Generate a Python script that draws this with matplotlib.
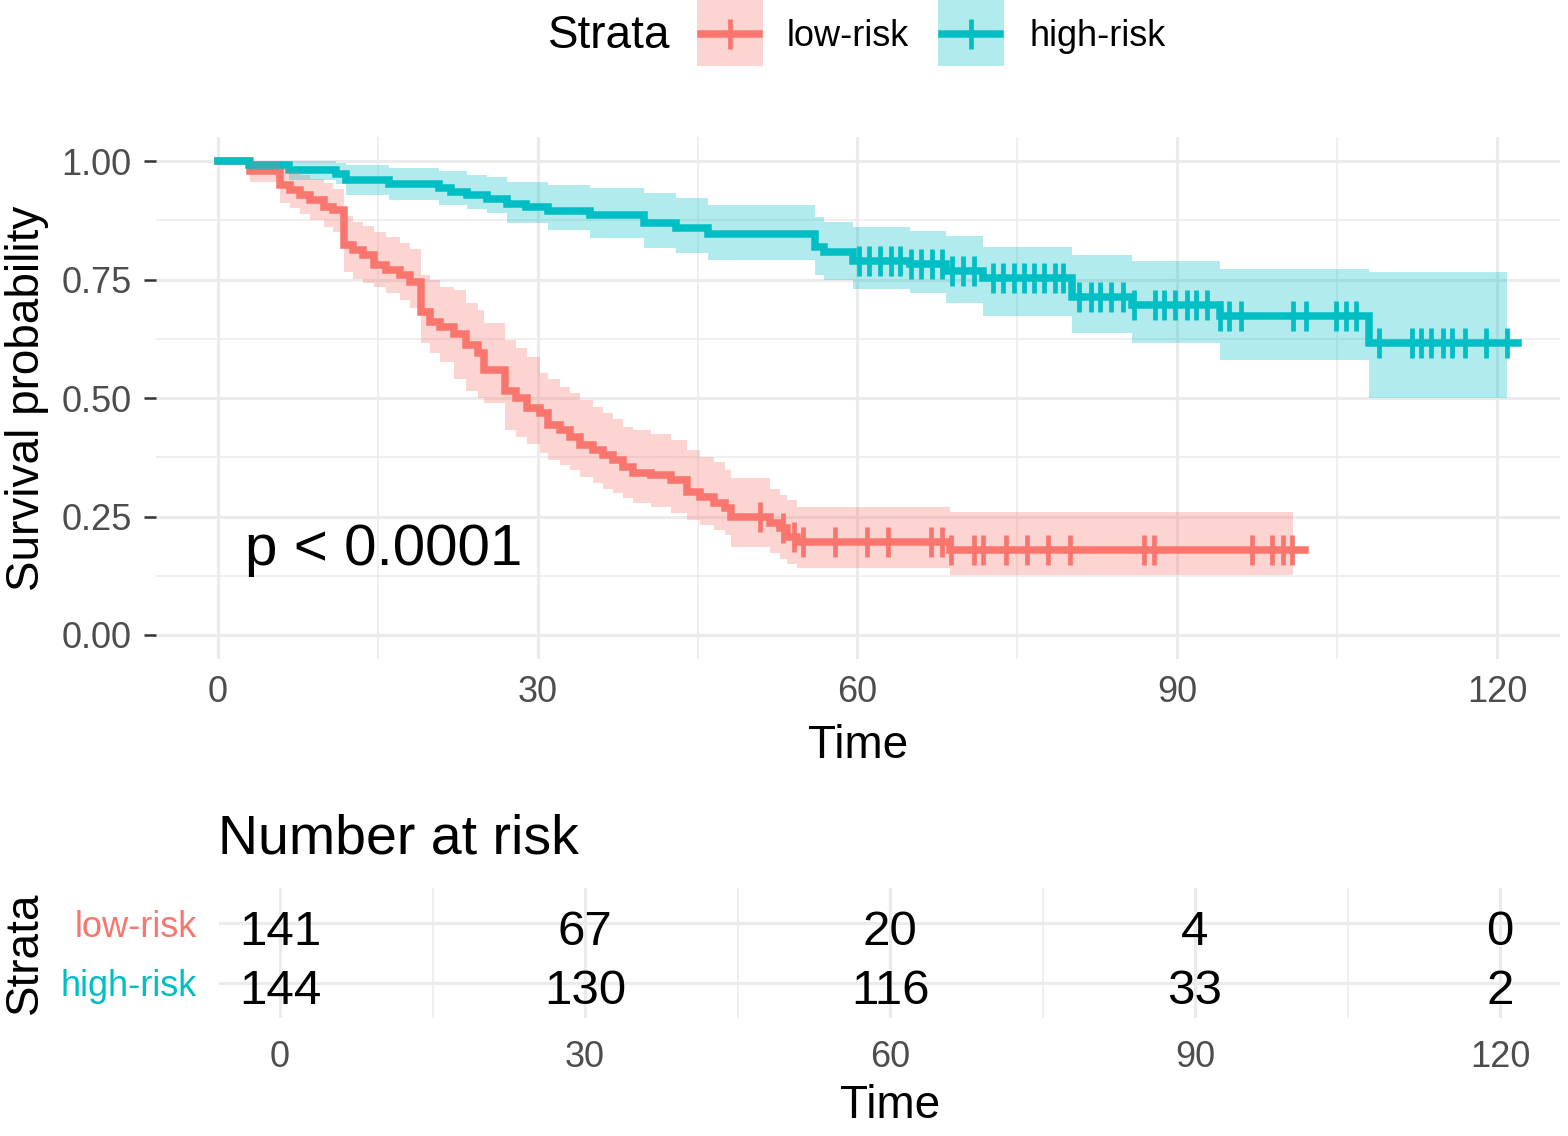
import numpy as np
import matplotlib.pyplot as plt
from matplotlib.patches import Rectangle

plt.rcParams['font.family'] = ['Liberation Sans', 'DejaVu Sans']

RED = '#F8766D'
TEAL = '#00BFC4'
GREY = '#4D4D4D'
GRID = '#EBEBEB'

# ---- low-risk: step times, survival, 95% band
low_time = [0, 3.0, 5.8, 6.8, 7.7, 8.6, 9.9, 10.8,
            11.8, 12.7, 13.6, 14.6, 15.8, 17.1, 18.0,
            19.0, 19.9, 20.8, 22.1, 23.3, 24.4, 25.0,
            26.9, 28.0, 29.0, 30.2, 31.0, 32.1, 33.0, 34.0, 35.2, 36.1,
            37.1, 38.0, 38.9, 40.6, 42.5, 44.0, 45.2, 46.5, 47.6, 48.1,
            51.8, 52.7, 53.4, 54.3, 68.7]
low_surv = [1.0, 0.979, 0.949, 0.939, 0.928, 0.918, 0.904, 0.897,
            0.823, 0.812, 0.802, 0.781, 0.770, 0.759, 0.745,
            0.682, 0.661, 0.650, 0.636, 0.612, 0.595, 0.560,
            0.515, 0.500, 0.479, 0.468, 0.443, 0.432, 0.418, 0.401, 0.390, 0.380,
            0.369, 0.355, 0.342, 0.338, 0.327, 0.302, 0.291, 0.278, 0.268, 0.249,
            0.236, 0.225, 0.207, 0.196, 0.179]
low_lower = [1.0, 0.955, 0.912, 0.900, 0.888, 0.876, 0.860, 0.850,
             0.765, 0.752, 0.742, 0.735, 0.722, 0.707, 0.690,
             0.615, 0.595, 0.575, 0.540, 0.515, 0.500, 0.489,
             0.432, 0.418, 0.404, 0.385, 0.369, 0.358, 0.348, 0.333, 0.320, 0.308,
             0.299, 0.288, 0.278, 0.270, 0.258, 0.243, 0.232, 0.222, 0.210, 0.186,
             0.172, 0.160, 0.150, 0.141, 0.127]
low_upper = [1.0, 1.0, 0.985, 0.978, 0.970, 0.962, 0.953, 0.940,
             0.883, 0.872, 0.862, 0.850, 0.840, 0.828, 0.815,
             0.760, 0.749, 0.735, 0.728, 0.700, 0.685, 0.658,
             0.622, 0.605, 0.587, 0.552, 0.540, 0.524, 0.510, 0.496, 0.482, 0.468,
             0.455, 0.439, 0.432, 0.425, 0.411, 0.390, 0.375, 0.365, 0.348, 0.331,
             0.309, 0.295, 0.285, 0.271, 0.260]
low_censor = [50.9, 53.0, 54.0, 54.9, 57.9, 60.9, 62.9, 66.9, 67.9, 68.8, 70.9,
              71.8, 73.9, 75.9, 77.9, 79.9, 86.9, 87.8, 97.0, 98.9, 99.9, 100.8]
low_end = 102.0
low_band_end = 100.9

# ---- high-risk
high_time = [0, 2.95, 6.7, 11.1, 12.05, 16.0, 20.7, 21.9, 23.4, 25.2, 27.1, 28.9,
             31.0, 34.9, 40.0, 43.0, 46.0, 56.0, 56.9, 59.6, 64.9, 68.3, 71.8,
             80.1, 85.8, 94.0, 108.0]
high_surv = [1.0, 0.992, 0.981, 0.972, 0.960, 0.951, 0.942, 0.935, 0.928, 0.920, 0.909, 0.903,
             0.895, 0.886, 0.869, 0.858, 0.847, 0.819, 0.809, 0.790, 0.783, 0.768, 0.753,
             0.713, 0.696, 0.672, 0.617]
high_lower = [1.0, 0.981, 0.960, 0.951, 0.928, 0.918, 0.907, 0.907, 0.899, 0.890, 0.869, 0.869,
              0.854, 0.837, 0.816, 0.805, 0.791, 0.759, 0.749, 0.730, 0.721, 0.700, 0.672,
              0.638, 0.615, 0.581, 0.501]
high_upper = [1.0, 1.0, 1.0, 0.995, 0.992, 0.986, 0.978, 0.978, 0.970, 0.967, 0.956, 0.956,
              0.949, 0.942, 0.932, 0.921, 0.907, 0.882, 0.872, 0.861, 0.853, 0.841, 0.819,
              0.802, 0.788, 0.772, 0.765]
high_censor = [60.1, 61.1, 62.1, 63.1, 64.0, 65.0, 66.0, 67.0, 67.9, 68.9, 69.9, 70.9,
               72.7, 73.7, 74.7, 75.6, 76.6, 77.5, 78.5, 79.3, 80.8, 81.9, 82.8, 83.8, 84.9,
               85.9, 87.9, 88.8, 89.8, 90.9, 91.8, 92.8, 94.0, 94.9, 96.0, 100.9, 102.1,
               104.9, 105.8, 106.8, 108.9, 112.0, 112.9, 113.8, 114.9, 115.8, 117.0, 119.0, 120.9]
high_end = 122.0
high_band_end = 120.9

# ---- number at risk table
risk_times = [0, 30, 60, 90, 120]
risk_low = [141, 67, 20, 4, 0]
risk_high = [144, 130, 116, 33, 2]
strata = ['low-risk', 'high-risk']

W, H = 1568, 1136
fig = plt.figure(figsize=(W / 100, H / 100), dpi=100)


def box(l, t, r, b):
    return [l / W, 1 - b / H, (r - l) / W, (b - t) / H]


ax = fig.add_axes(box(156, 137.3, 1560, 658.7))
tab = fig.add_axes(box(219, 888, 1560, 1018))
ov = fig.add_axes([0, 0, 1, 1])
ov.set_xlim(0, W)
ov.set_ylim(H, 0)
ov.axis('off')

LW = 5.4
MS = 21
MEW = 3.4

curves = [
    (low_time, low_surv, low_lower, low_upper, low_censor, low_end, low_band_end, RED),
    (high_time, high_surv, high_lower, high_upper, high_censor, high_end, high_band_end, TEAL),
]

# lines first, survminer puts the ribbons on top
for time, surv, lo, up, cens, end, bend, col in curves:
    ax.plot(time + [end], surv + [surv[-1]], drawstyle='steps-post', color=col,
            lw=LW, solid_joinstyle='miter', zorder=2)
    idx = np.searchsorted(time, cens, side='right') - 1
    ax.plot(cens, np.array(surv)[idx], ls='none', marker='|', ms=MS, mew=MEW,
            color=col, zorder=2)
for time, surv, lo, up, cens, end, bend, col in curves:
    ax.fill_between(time + [bend], lo + [lo[-1]], up + [up[-1]], step='post',
                    color=col, alpha=0.3, lw=0, zorder=3)

ax.set_xlim((156 - 218) / 10.658, (1560 - 218) / 10.658)
ax.set_ylim(-0.05, 1.05)
ax.set_xticks([0, 30, 60, 90, 120])
ax.set_xticks([15, 45, 75, 105], minor=True)
ax.set_yticks([0, 0.25, 0.5, 0.75, 1.0])
ax.set_yticklabels(['0.00', '0.25', '0.50', '0.75', '1.00'])
ax.set_yticks([0.125, 0.375, 0.625, 0.875], minor=True)
ax.grid(which='major', color=GRID, lw=2.2)
ax.grid(which='minor', color=GRID, lw=1.1)
ax.set_axisbelow(True)
for s in ax.spines.values():
    s.set_visible(False)
ax.tick_params(which='minor', length=0)
ax.tick_params(axis='x', which='major', length=0, pad=12, labelsize=26, labelcolor=GREY)
ax.tick_params(axis='y', which='major', length=8.5, width=1.8, color='#333333',
               pad=9, labelsize=26, labelcolor=GREY)
ax.text(2.5, 0.148, 'p < 0.0001', fontsize=42, ha='left', va='baseline')

# risk table
rows = [2, 1]
for row, counts in zip(rows, [risk_low, risk_high]):
    for t, n in zip(risk_times, counts):
        tab.text(t, row - 0.37, str(n), ha='center', va='baseline', fontsize=35.5)
tab.set_xlim((219 - 280) / 10.167, (1560 - 280) / 10.167)
tab.set_ylim(0.4, 2.6)
tab.set_xticks(risk_times)
tab.set_xticks([15, 45, 75, 105], minor=True)
tab.set_yticks(rows)
tab.set_yticklabels(strata)
for lab, col in zip(tab.get_yticklabels(), [RED, TEAL]):
    lab.set_color(col)
tab.grid(which='major', color=GRID, lw=2.2)
tab.grid(which='minor', axis='x', color=GRID, lw=1.1)
tab.set_axisbelow(True)
for s in tab.spines.values():
    s.set_visible(False)
tab.tick_params(which='both', length=0)
tab.tick_params(axis='x', pad=16, labelsize=26, labelcolor=GREY)
tab.tick_params(axis='y', pad=16, labelsize=26)

# titles and labels
ov.text(858, 746, 'Time', fontsize=33, ha='center', va='center')
ov.text(27, 398, 'Survival probability', fontsize=33, rotation=90, ha='center', va='center')
ov.text(218, 840, 'Number at risk', fontsize=40, ha='left', va='center')
ov.text(25, 953, 'Strata', fontsize=33, rotation=90, ha='center', va='center')
ov.text(890, 1106, 'Time', fontsize=33, ha='center', va='center')

# legend
ov.text(548, 36, 'Strata', fontsize=33, ha='left', va='center')
for (x0, lab, tx), col in zip([(697, 'low-risk', 787), (938, 'high-risk', 1030)], [RED, TEAL]):
    ov.add_patch(Rectangle((x0, -2), 66, 68, color=col, alpha=0.3, lw=0))
    ov.plot([x0 + 4, x0 + 62], [34, 34], color=col, lw=LW)
    ov.plot([x0 + 33], [34], marker='|', ms=MS, mew=MEW, color=col)
    ov.text(tx, 36, lab, fontsize=26, ha='left', va='center')

fig.savefig('out.png', dpi=100)
